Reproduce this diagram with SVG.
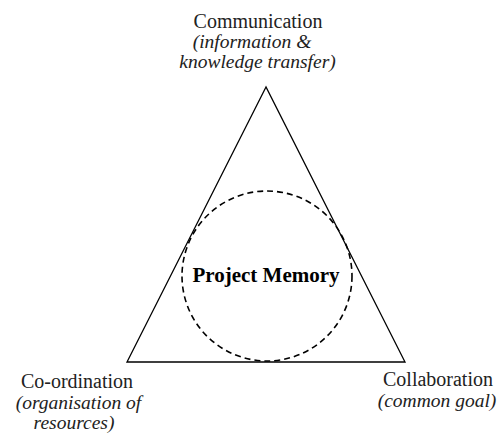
<svg xmlns="http://www.w3.org/2000/svg" width="498" height="436" viewBox="0 0 498 436">
<style>
.t{font-family:"Liberation Serif","Times New Roman",serif;font-size:20px;fill:#222;text-anchor:middle}
.i{font-style:italic;font-size:19.5px}
.b{font-weight:bold;font-size:21px;fill:#000}
</style>
<rect width="498" height="436" fill="#fff"/>
<g id="connectors">
<polygon points="266,87 127,362 405,362" fill="none" stroke="#000" stroke-width="1.3"/>
</g>
<g id="memory">
<circle cx="267" cy="276" r="85" fill="none" stroke="#000" stroke-width="1.6" stroke-dasharray="6,4"/>
<text class="t b" x="266" y="282">Project Memory</text>
</g>
<g id="communication">
<text class="t" x="258" y="28">Communication</text>
<text class="t i" x="252" y="48">(information &amp;</text>
<text class="t i" x="257.5" y="68">knowledge transfer)</text>
</g>
<g id="coordination">
<text class="t" x="77" y="388">Co-ordination</text>
<text class="t i" x="78.5" y="409">(organisation of</text>
<text class="t i" x="74" y="429">resources)</text>
</g>
<g id="collaboration">
<text class="t" x="438" y="386">Collaboration</text>
<text class="t i" x="437" y="407">(common goal)</text>
</g>
</svg>
